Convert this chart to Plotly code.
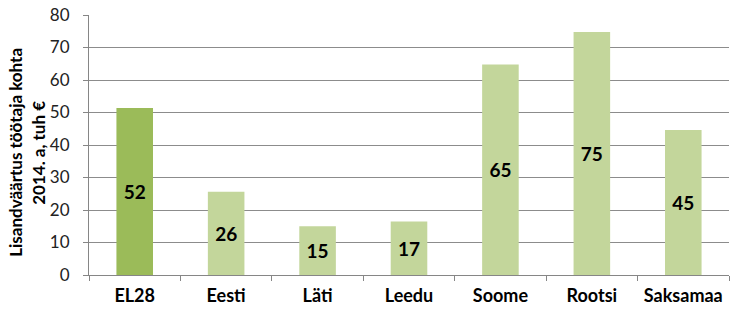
import plotly.graph_objects as go

categories = ["EL28", "Eesti", "Läti", "Leedu", "Soome", "Rootsi", "Saksamaa"]
values = [51.4, 25.6, 15.0, 16.5, 64.8, 74.8, 44.6]
labels = ["52", "26", "15", "17", "65", "75", "45"]
colors = ["#9BBB59", "#C3D69B", "#C3D69B", "#C3D69B", "#C3D69B", "#C3D69B", "#C3D69B"]
y_ticks = [0, 10, 20, 30, 40, 50, 60, 70, 80]
title_lines = ["Lisandväärtus töötaja kohta", "2014. a, tuh €"]

FONT = "Lato"

fig = go.Figure(go.Bar(
    x=categories, y=values, text=labels,
    marker=dict(color=colors, line=dict(width=0)),
    textposition="inside", insidetextanchor="middle",
    textfont=dict(family=FONT, size=19, color="#000000", weight="bold"),
    textangle=0, width=0.4, hoverinfo="skip",
))

fig.update_layout(
    width=736, height=325,
    margin=dict(l=89, r=7, t=15, b=50, autoexpand=False),
    paper_bgcolor="white", plot_bgcolor="white",
    showlegend=False,
    font=dict(family=FONT),
    uniformtext=dict(mode=False),
)
fig.update_xaxes(
    showline=True, linecolor="#868686", linewidth=1,
    ticks="outside", tickson="boundaries", ticklen=5, tickcolor="#868686",
    tickfont=dict(family=FONT, size=18, color="#000000", weight="bold"),
    tickangle=0, automargin=False, ticklabelstandoff=4,
    showgrid=False,
)
fig.update_yaxes(
    range=[0, 80], tickvals=y_ticks,
    showline=True, linecolor="#868686", linewidth=1,
    ticks="outside", ticklen=5, tickcolor="#868686",
    showgrid=True, gridcolor="#8C8C8C", gridwidth=1,
    zeroline=False, automargin=False,
    tickfont=dict(family=FONT, size=17, color="#222222"),
    ticklabelstandoff=10,
)

plot_w = 736 - 89 - 7
for px, line in zip([16, 39], title_lines):
    fig.add_annotation(
        text=line, xref="paper", yref="paper",
        x=(px - 89) / plot_w, y=0.47, xanchor="center", yanchor="middle",
        textangle=-90, showarrow=False,
        font=dict(family=FONT, size=17, color="#000000", weight="bold"),
    )

fig.write_html("out.html")
